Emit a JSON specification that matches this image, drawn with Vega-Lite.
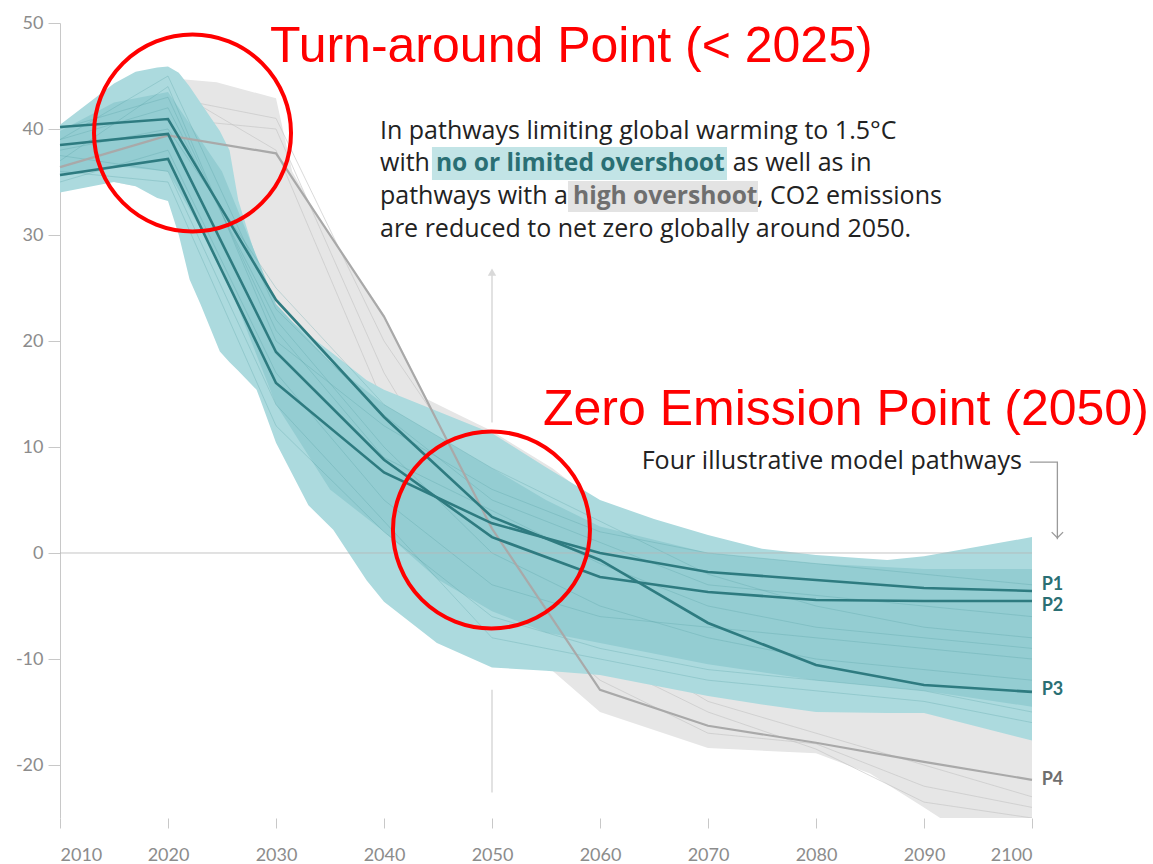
{
  "$schema": "https://vega.github.io/schema/vega-lite/v6.json",
  "width": 972,
  "height": 795,
  "autosize": "none",
  "padding": {"left": 60, "top": 23, "right": 121, "bottom": 46},
  "background": "white",
  "config": {"view": {"stroke": null}},
  "encoding": {
    "x": {"field": "year", "type": "quantitative", "scale": {"domain": [2010, 2100], "nice": false, "zero": false},
      "axis": {"title": null, "values": [2010, 2020, 2030, 2040, 2050, 2060, 2070, 2080, 2090, 2100], "format": "d", "domain": false, "grid": false, "tickSize": 10, "tickColor": "#c8c8c8", "labelColor": "#8c8c8c", "labelFont": "Lato", "labelFontSize": 18, "labelPadding": 18}},
    "y": {"field": "value", "type": "quantitative", "scale": {"domain": [-25, 50], "nice": false, "zero": false},
      "axis": {"title": null, "values": [-20, -10, 0, 10, 20, 30, 40, 50], "labelExpr": "replace(datum.label, '\u2212', '-')", "domain": true, "domainColor": "#c8c8c8", "grid": false, "tickSize": 12, "tickColor": "#c8c8c8", "labelColor": "#8c8c8c", "labelFont": "Lato", "labelFontSize": 18, "labelPadding": 5}}
  },
  "layer": [
    {
      "data": {"values": [{"year": 2050, "value": 26.6, "value2": 12.3}, {"year": 2050, "value": -12.9, "value2": -22.6}]},
      "mark": {"type": "rule", "color": "#d9d9d9", "strokeWidth": 1.5},
      "encoding": {"y2": {"field": "value2"}}
    },
    {
      "data": {"values": [{"year": 2050, "value": 26.5}]},
      "mark": {"type": "point", "shape": "triangle-up", "filled": true, "color": "#d9d9d9", "size": 70, "opacity": 1}
    },
    {
      "data": {"values": [
        {"year": 2010, "value": 35, "value2": 37},
        {"year": 2015, "value": 35, "value2": 40},
        {"year": 2020, "value": 34, "value2": 44.8},
        {"year": 2024.5, "value": 30, "value2": 44.4},
        {"year": 2030, "value": 18, "value2": 42.9},
        {"year": 2031.5, "value": 15, "value2": 36},
        {"year": 2034, "value": 12, "value2": 31.5},
        {"year": 2037, "value": 6, "value2": 27},
        {"year": 2040, "value": 2, "value2": 22.5},
        {"year": 2044, "value": -4, "value2": 14.5},
        {"year": 2047, "value": -6, "value2": 13},
        {"year": 2050, "value": -8, "value2": 11.5},
        {"year": 2055.6, "value": -11.1, "value2": 8},
        {"year": 2060, "value": -15, "value2": 4.5},
        {"year": 2070, "value": -18.4, "value2": 1},
        {"year": 2080, "value": -18.9, "value2": -1},
        {"year": 2085, "value": -20.8, "value2": -1.5},
        {"year": 2090, "value": -24, "value2": -2},
        {"year": 2091.5, "value": -25, "value2": -2},
        {"year": 2100, "value": -25, "value2": -2}
      ]},
      "mark": {"type": "area", "color": "#e6e6e6", "opacity": 1, "clip": true},
      "encoding": {"y2": {"field": "value2"}}
    },
    {
      "data": {"values": [
        {"id": "G1", "year": 2010, "value": 37}, {"id": "G1", "year": 2020, "value": 43}, {"id": "G1", "year": 2030, "value": 41}, {"id": "G1", "year": 2040, "value": 20}, {"id": "G1", "year": 2050, "value": 5}, {"id": "G1", "year": 2060, "value": -8}, {"id": "G1", "year": 2070, "value": -14}, {"id": "G1", "year": 2080, "value": -17}, {"id": "G1", "year": 2090, "value": -20}, {"id": "G1", "year": 2100, "value": -23},
        {"id": "G2", "year": 2010, "value": 36}, {"id": "G2", "year": 2020, "value": 41}, {"id": "G2", "year": 2030, "value": 40}, {"id": "G2", "year": 2040, "value": 17}, {"id": "G2", "year": 2050, "value": 0}, {"id": "G2", "year": 2060, "value": -10}, {"id": "G2", "year": 2070, "value": -15}, {"id": "G2", "year": 2080, "value": -18.5}, {"id": "G2", "year": 2090, "value": -23.5}, {"id": "G2", "year": 2100, "value": -25},
        {"id": "G3", "year": 2010, "value": 38}, {"id": "G3", "year": 2020, "value": 44}, {"id": "G3", "year": 2030, "value": 38}, {"id": "G3", "year": 2040, "value": 14}, {"id": "G3", "year": 2050, "value": -3}, {"id": "G3", "year": 2060, "value": -12}, {"id": "G3", "year": 2070, "value": -17}, {"id": "G3", "year": 2080, "value": -18}, {"id": "G3", "year": 2090, "value": -22}, {"id": "G3", "year": 2100, "value": -24}
      ]},
      "mark": {"type": "line", "color": "#c4c4c4", "strokeWidth": 0.8, "opacity": 0.8, "clip": true},
      "encoding": {"detail": {"field": "id"}}
    },
    {
      "data": {"values": [
        {"year": 2010, "value": 34.0, "value2": 40.4},
        {"year": 2015, "value": 35.0, "value2": 44.3},
        {"year": 2017, "value": 34.6, "value2": 45.4},
        {"year": 2019, "value": 33.5, "value2": 45.8},
        {"year": 2020, "value": 33.2, "value2": 45.9},
        {"year": 2021, "value": 30.0, "value2": 45.3},
        {"year": 2022, "value": 25.8, "value2": 44.0},
        {"year": 2023, "value": 23.5, "value2": 42.5},
        {"year": 2024.8, "value": 19.0, "value2": 39.8},
        {"year": 2025.7, "value": 18.0, "value2": 38.0},
        {"year": 2026.5, "value": 17.2, "value2": 33.3},
        {"year": 2028.2, "value": 15.4, "value2": 27.7},
        {"year": 2028.5, "value": 14.6, "value2": 27.0},
        {"year": 2030, "value": 10.4, "value2": 23.0},
        {"year": 2033, "value": 4.5, "value2": 20.6},
        {"year": 2035.3, "value": 2.2, "value2": 18.8},
        {"year": 2038.4, "value": -2.6, "value2": 16.3},
        {"year": 2040, "value": -4.6, "value2": 15.4},
        {"year": 2044.9, "value": -8.5, "value2": 13.4},
        {"year": 2050, "value": -10.8, "value2": 11.3},
        {"year": 2055, "value": -11.1, "value2": 8.1},
        {"year": 2060, "value": -11.5, "value2": 5.0},
        {"year": 2065, "value": -12.5, "value2": 3.2},
        {"year": 2070, "value": -13.5, "value2": 1.7},
        {"year": 2075, "value": -14.3, "value2": 0.4},
        {"year": 2080, "value": -15.0, "value2": -0.2},
        {"year": 2086.6, "value": -15.1, "value2": -0.66},
        {"year": 2090, "value": -15.1, "value2": -0.3},
        {"year": 2100, "value": -17.7, "value2": 1.5}
      ]},
      "mark": {"type": "area", "color": "#acdade", "opacity": 1, "clip": true},
      "encoding": {"y2": {"field": "value2"}}
    },
    {
      "data": {"values": [
        {"year": 2010, "value": 35.5, "value2": 39.8},
        {"year": 2015, "value": 36.5, "value2": 42.5},
        {"year": 2020, "value": 36.0, "value2": 43.5},
        {"year": 2025, "value": 27.0, "value2": 36.0},
        {"year": 2030, "value": 14.0, "value2": 23.5},
        {"year": 2035, "value": 6.0, "value2": 18.0},
        {"year": 2040, "value": 2.0, "value2": 14.0},
        {"year": 2045, "value": -2.5, "value2": 11.0},
        {"year": 2050, "value": -5.5, "value2": 8.0},
        {"year": 2055, "value": -7.5, "value2": 5.0},
        {"year": 2060, "value": -8.5, "value2": 2.5},
        {"year": 2070, "value": -10.5, "value2": 0.0},
        {"year": 2080, "value": -12.0, "value2": -1.0},
        {"year": 2090, "value": -13.0, "value2": -1.5},
        {"year": 2100, "value": -14.5, "value2": -1.5}
      ]},
      "mark": {"type": "area", "color": "#94cdd2", "opacity": 1, "clip": true},
      "encoding": {"y2": {"field": "value2"}}
    },
    {
      "data": {"values": [
        {"id": "L1", "year": 2010, "value": 37}, {"id": "L1", "year": 2020, "value": 44}, {"id": "L1", "year": 2030, "value": 20}, {"id": "L1", "year": 2040, "value": 12}, {"id": "L1", "year": 2050, "value": 6}, {"id": "L1", "year": 2060, "value": 2}, {"id": "L1", "year": 2070, "value": 0}, {"id": "L1", "year": 2080, "value": -1}, {"id": "L1", "year": 2090, "value": -2}, {"id": "L1", "year": 2100, "value": -3},
        {"id": "L2", "year": 2010, "value": 39}, {"id": "L2", "year": 2020, "value": 42}, {"id": "L2", "year": 2030, "value": 22}, {"id": "L2", "year": 2040, "value": 10}, {"id": "L2", "year": 2050, "value": 0}, {"id": "L2", "year": 2060, "value": -5}, {"id": "L2", "year": 2070, "value": -8}, {"id": "L2", "year": 2080, "value": -10}, {"id": "L2", "year": 2090, "value": -11}, {"id": "L2", "year": 2100, "value": -12},
        {"id": "L3", "year": 2010, "value": 36}, {"id": "L3", "year": 2020, "value": 35}, {"id": "L3", "year": 2030, "value": 12}, {"id": "L3", "year": 2040, "value": 2}, {"id": "L3", "year": 2050, "value": -6}, {"id": "L3", "year": 2060, "value": -9}, {"id": "L3", "year": 2070, "value": -11}, {"id": "L3", "year": 2080, "value": -12}, {"id": "L3", "year": 2090, "value": -13}, {"id": "L3", "year": 2100, "value": -15},
        {"id": "L4", "year": 2010, "value": 38}, {"id": "L4", "year": 2020, "value": 40}, {"id": "L4", "year": 2030, "value": 25}, {"id": "L4", "year": 2040, "value": 14}, {"id": "L4", "year": 2050, "value": 8}, {"id": "L4", "year": 2060, "value": 3}, {"id": "L4", "year": 2070, "value": -2}, {"id": "L4", "year": 2080, "value": -5}, {"id": "L4", "year": 2090, "value": -7}, {"id": "L4", "year": 2100, "value": -8},
        {"id": "L5", "year": 2010, "value": 35}, {"id": "L5", "year": 2020, "value": 38}, {"id": "L5", "year": 2030, "value": 17}, {"id": "L5", "year": 2040, "value": 5}, {"id": "L5", "year": 2050, "value": -3}, {"id": "L5", "year": 2060, "value": -6}, {"id": "L5", "year": 2070, "value": -7}, {"id": "L5", "year": 2080, "value": -8}, {"id": "L5", "year": 2090, "value": -9}, {"id": "L5", "year": 2100, "value": -10},
        {"id": "L6", "year": 2010, "value": 40}, {"id": "L6", "year": 2020, "value": 43}, {"id": "L6", "year": 2030, "value": 21}, {"id": "L6", "year": 2040, "value": 9}, {"id": "L6", "year": 2050, "value": 4}, {"id": "L6", "year": 2060, "value": -1}, {"id": "L6", "year": 2070, "value": -5}, {"id": "L6", "year": 2080, "value": -7}, {"id": "L6", "year": 2090, "value": -8}, {"id": "L6", "year": 2100, "value": -9},
        {"id": "L7", "year": 2010, "value": 37.5}, {"id": "L7", "year": 2020, "value": 36}, {"id": "L7", "year": 2030, "value": 14}, {"id": "L7", "year": 2040, "value": 3}, {"id": "L7", "year": 2050, "value": -8}, {"id": "L7", "year": 2060, "value": -10}, {"id": "L7", "year": 2070, "value": -12}, {"id": "L7", "year": 2080, "value": -13}, {"id": "L7", "year": 2090, "value": -14}, {"id": "L7", "year": 2100, "value": -16},
        {"id": "L8", "year": 2010, "value": 39}, {"id": "L8", "year": 2020, "value": 45}, {"id": "L8", "year": 2030, "value": 23}, {"id": "L8", "year": 2040, "value": 13}, {"id": "L8", "year": 2050, "value": 5}, {"id": "L8", "year": 2060, "value": 1}, {"id": "L8", "year": 2070, "value": -3}, {"id": "L8", "year": 2080, "value": -4}, {"id": "L8", "year": 2090, "value": -5}, {"id": "L8", "year": 2100, "value": -6}
      ]},
      "mark": {"type": "line", "color": "#4f9ba1", "strokeWidth": 0.8, "opacity": 0.35, "clip": true},
      "encoding": {"detail": {"field": "id"}}
    },
    {
      "data": {"values": [{"year": 2010, "year2": 2100, "value": 0}]},
      "mark": {"type": "rule", "color": "#b5b5b5", "strokeWidth": 1, "opacity": 0.8},
      "encoding": {"x2": {"field": "year2"}}
    },
    {
      "data": {"values": [
        {"id": "P4", "year": 2010, "value": 36.4}, {"id": "P4", "year": 2020, "value": 39.4}, {"id": "P4", "year": 2030, "value": 37.7}, {"id": "P4", "year": 2040, "value": 22.3}, {"id": "P4", "year": 2050, "value": 2.3}, {"id": "P4", "year": 2060, "value": -12.9}, {"id": "P4", "year": 2070, "value": -16.3}, {"id": "P4", "year": 2080, "value": -17.9}, {"id": "P4", "year": 2090, "value": -19.7}, {"id": "P4", "year": 2100, "value": -21.4}
      ]},
      "mark": {"type": "line", "color": "#a9a9a9", "strokeWidth": 2.2},
      "encoding": {"detail": {"field": "id"}}
    },
    {
      "data": {"values": [
        {"id": "P1", "year": 2010, "value": 35.66}, {"id": "P1", "year": 2020, "value": 37.17}, {"id": "P1", "year": 2030, "value": 16.04}, {"id": "P1", "year": 2040, "value": 7.6}, {"id": "P1", "year": 2050, "value": 2.8}, {"id": "P1", "year": 2060, "value": 0.0}, {"id": "P1", "year": 2070, "value": -1.79}, {"id": "P1", "year": 2080, "value": -2.55}, {"id": "P1", "year": 2090, "value": -3.3}, {"id": "P1", "year": 2100, "value": -3.58},
        {"id": "P2", "year": 2010, "value": 38.49}, {"id": "P2", "year": 2020, "value": 39.53}, {"id": "P2", "year": 2030, "value": 18.96}, {"id": "P2", "year": 2040, "value": 8.8}, {"id": "P2", "year": 2050, "value": 1.5}, {"id": "P2", "year": 2060, "value": -2.26}, {"id": "P2", "year": 2070, "value": -3.68}, {"id": "P2", "year": 2080, "value": -4.43}, {"id": "P2", "year": 2090, "value": -4.53}, {"id": "P2", "year": 2100, "value": -4.53},
        {"id": "P3", "year": 2010, "value": 40.19}, {"id": "P3", "year": 2020, "value": 40.94}, {"id": "P3", "year": 2030, "value": 23.87}, {"id": "P3", "year": 2040, "value": 12.83}, {"id": "P3", "year": 2050, "value": 3.4}, {"id": "P3", "year": 2060, "value": -0.66}, {"id": "P3", "year": 2070, "value": -6.6}, {"id": "P3", "year": 2080, "value": -10.57}, {"id": "P3", "year": 2090, "value": -12.45}, {"id": "P3", "year": 2100, "value": -13.1}
      ]},
      "mark": {"type": "line", "color": "#2e7b80", "strokeWidth": 2.6},
      "encoding": {"detail": {"field": "id"}}
    },
    {
      "data": {"values": [
        {"year": 2100.9, "value": -3.02, "label": "P1", "grp": "teal"},
        {"year": 2100.9, "value": -5.0, "label": "P2", "grp": "teal"},
        {"year": 2100.9, "value": -12.92, "label": "P3", "grp": "teal"},
        {"year": 2100.9, "value": -21.42, "label": "P4", "grp": "grey"}
      ]},
      "mark": {"type": "text", "align": "left", "baseline": "middle", "font": "Lato", "fontWeight": "bold", "fontSize": 18},
      "encoding": {
        "text": {"field": "label"},
        "color": {"field": "grp", "type": "nominal", "scale": {"domain": ["teal", "grey"], "range": ["#2a6f74", "#6f6f6f"]}, "legend": null}
      }
    },
    {
      "data": {"values": [
        {"year": 2044.44, "year2": 2071.76, "value": 35.19, "value2": 38.3, "kind": "teal"},
        {"year": 2057.04, "year2": 2074.63, "value": 32.17, "value2": 35.09, "kind": "grey"}
      ]},
      "mark": {"type": "rect"},
      "encoding": {
        "x2": {"field": "year2"},
        "y2": {"field": "value2"},
        "fill": {"field": "kind", "type": "nominal", "scale": {"domain": ["teal", "grey"], "range": ["#c2e4e6", "#e3e3e3"]}, "legend": null}
      }
    },
    {
      "data": {"values": [
        {"year": 2039.63, "value": 39.06, "label": "In pathways limiting global warming to 1.5°C"},
        {"year": 2039.63, "value": 36.04, "label": "with"},
        {"year": 2072.3, "value": 36.04, "label": "as well as in"},
        {"year": 2039.63, "value": 32.92, "label": "pathways with a"},
        {"year": 2074.54, "value": 32.92, "label": ", CO2 emissions"},
        {"year": 2039.63, "value": 29.81, "label": "are reduced to net zero globally around 2050."}
      ]},
      "mark": {"type": "text", "align": "left", "baseline": "alphabetic", "font": "Open Sans", "fontSize": 25, "color": "#222222"},
      "encoding": {"text": {"field": "label"}}
    },
    {
      "data": {"values": [
        {"year": 2044.81, "value": 36.04, "label": "no or limited overshoot", "kind": "teal"},
        {"year": 2057.5, "value": 32.92, "label": "high overshoot", "kind": "grey"}
      ]},
      "mark": {"type": "text", "align": "left", "baseline": "alphabetic", "font": "Open Sans", "fontWeight": "bold", "fontSize": 24.6},
      "encoding": {
        "text": {"field": "label"},
        "color": {"field": "kind", "type": "nominal", "scale": {"domain": ["teal", "grey"], "range": ["#1f6c70", "#6a6a6a"]}, "legend": null}
      }
    },
    {
      "data": {"values": [
        {"year": 2099.8, "value": 8.58, "o": 1},
        {"year": 2102.35, "value": 8.58, "o": 2},
        {"year": 2102.35, "value": 1.3, "o": 3}
      ]},
      "mark": {"type": "line", "color": "#9a9a9a", "strokeWidth": 1.3},
      "encoding": {"order": {"field": "o"}}
    },
    {
      "data": {"values": [{"year": 2102.35, "value": 1.7}]},
      "mark": {"type": "point", "shape": "M-1,-0.5L0,0.5L1,-0.5", "filled": false, "color": "#9a9a9a", "strokeWidth": 1.3, "size": 130, "opacity": 1}
    },
    {
      "data": {"values": [{"year": 2099.07, "value": 7.92, "label": "Four illustrative model pathways"}]},
      "mark": {"type": "text", "align": "right", "baseline": "alphabetic", "font": "Open Sans", "fontSize": 25.1, "color": "#222222"},
      "encoding": {"text": {"field": "label"}}
    },
    {
      "data": {"values": [{"year": 2022.27, "value": 39.62}, {"year": 2049.95, "value": 2.17}]},
      "mark": {"type": "point", "shape": "circle", "filled": false, "color": "#ff0000", "strokeWidth": 4, "size": 38809, "opacity": 1}
    },
    {
      "data": {"values": [
        {"year": 2029.44, "value": 46.32, "label": "Turn-around Point (< 2025)"},
        {"year": 2054.72, "value": 12.08, "label": "Zero Emission Point (2050)"}
      ]},
      "mark": {"type": "text", "align": "left", "baseline": "alphabetic", "font": "Liberation Sans", "fontSize": 50, "color": "#ff0000"},
      "encoding": {"text": {"field": "label"}}
    }
  ]
}
